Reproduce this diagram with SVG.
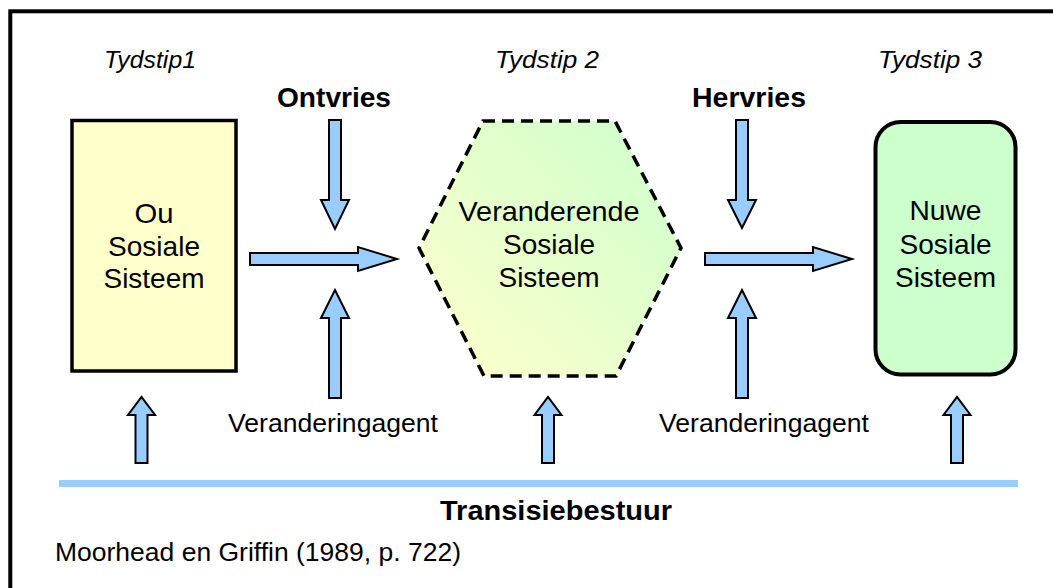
<svg xmlns="http://www.w3.org/2000/svg" width="1053" height="588" viewBox="0 0 1053 588">
  <defs>
    <linearGradient id="hexGrad" x1="0" y1="1" x2="1" y2="0">
      <stop offset="0" stop-color="#FFFFCC"/>
      <stop offset="1" stop-color="#CCFFCC"/>
    </linearGradient>
    <style>
      text { font-family: "Liberation Sans", Arial, sans-serif; fill: #000; }
      .ital { font-style: italic; font-size: 24px; }
      .bold { font-weight: bold; font-size: 27px; }
      .reg { font-size: 26px; }
      .node { font-size: 27.5px; }
      .arrow { fill: #99CCFF; stroke: #000; stroke-width: 2; stroke-linejoin: miter; }
    </style>
  </defs>
  <rect x="0" y="0" width="1053" height="588" fill="#FFFFFF"/>
  <rect x="10.3" y="11.3" width="1100" height="700" fill="none" stroke="#000" stroke-width="4"/>

  <g id="labels">
    <text class="ital" x="150" y="68" text-anchor="middle" textLength="92" lengthAdjust="spacingAndGlyphs">Tydstip1</text>
    <text class="ital" x="547" y="68" text-anchor="middle" textLength="104" lengthAdjust="spacingAndGlyphs">Tydstip 2</text>
    <text class="ital" x="930" y="68" text-anchor="middle" textLength="104" lengthAdjust="spacingAndGlyphs">Tydstip 3</text>
    <text class="bold" x="334" y="107" text-anchor="middle" textLength="114" lengthAdjust="spacingAndGlyphs">Ontvries</text>
    <text class="bold" x="749" y="107" text-anchor="middle" textLength="114" lengthAdjust="spacingAndGlyphs">Hervries</text>
    <text class="reg" x="333" y="432" text-anchor="middle" textLength="210" lengthAdjust="spacingAndGlyphs">Veranderingagent</text>
    <text class="reg" x="764" y="432" text-anchor="middle" textLength="210" lengthAdjust="spacingAndGlyphs">Veranderingagent</text>
    <text class="bold" x="556" y="520" text-anchor="middle" style="font-size:28px" textLength="232" lengthAdjust="spacingAndGlyphs">Transisiebestuur</text>
    <text x="55" y="561" style="font-size:26px" textLength="406" lengthAdjust="spacingAndGlyphs">Moorhead en Griffin (1989, p. 722)</text>
  </g>

  <g id="node-ou">
    <rect x="72" y="120.5" width="164" height="250.5" fill="#FFFFCC" stroke="#000" stroke-width="3.5"/>
    <text class="node" x="154" y="223" text-anchor="middle" textLength="39" lengthAdjust="spacingAndGlyphs">Ou</text>
    <text class="node" x="154" y="256" text-anchor="middle" textLength="92" lengthAdjust="spacingAndGlyphs">Sosiale</text>
    <text class="node" x="154" y="288" text-anchor="middle" textLength="101" lengthAdjust="spacingAndGlyphs">Sisteem</text>
  </g>

  <g id="node-veranderende">
    <polygon points="483,121 615,121 681,248 616,376 484,376 419,248" fill="url(#hexGrad)" stroke="#000" stroke-width="3.5" stroke-dasharray="12 7"/>
    <text class="node" x="549" y="221" text-anchor="middle" textLength="181" lengthAdjust="spacingAndGlyphs">Veranderende</text>
    <text class="node" x="549" y="254" text-anchor="middle" textLength="92" lengthAdjust="spacingAndGlyphs">Sosiale</text>
    <text class="node" x="549" y="287" text-anchor="middle" textLength="101" lengthAdjust="spacingAndGlyphs">Sisteem</text>
  </g>

  <g id="node-nuwe">
    <rect x="875.5" y="122" width="140" height="252.5" rx="25" ry="25" fill="#CCFFCC" stroke="#000" stroke-width="4"/>
    <text class="node" x="945.5" y="220" text-anchor="middle" textLength="72" lengthAdjust="spacingAndGlyphs">Nuwe</text>
    <text class="node" x="945.5" y="254" text-anchor="middle" textLength="92" lengthAdjust="spacingAndGlyphs">Sosiale</text>
    <text class="node" x="945.5" y="287" text-anchor="middle" textLength="101" lengthAdjust="spacingAndGlyphs">Sisteem</text>
  </g>

  <g id="connectors">
    <polygon class="arrow" points="250,253 358,253 358,247 397,259 358,271 358,265 250,265"/>
    <polygon class="arrow" points="705,253 813,253 813,247 852,259 813,271 813,265 705,265"/>
    <polygon class="arrow" points="329,120 341,120 341,200 349,200 335,229 321,200 329,200"/>
    <polygon class="arrow" points="736,120 748,120 748,200 756,200 742,228 728,200 736,200"/>
    <polygon class="arrow" points="329,398 341,398 341,318 349,318 335,290 321,318 329,318"/>
    <polygon class="arrow" points="736,398 748,398 748,318 756,318 742,290 728,318 736,318"/>
    <polygon class="arrow" points="135.5,463 147.5,463 147.5,415 155,415 141.5,397 128,415 135.5,415"/>
    <polygon class="arrow" points="542,463 554,463 554,415 561.5,415 548,397 534.5,415 542,415"/>
    <polygon class="arrow" points="951,463 963,463 963,415 970.5,415 957,397 943.5,415 951,415"/>
    <line x1="59" y1="483.5" x2="1018" y2="483.5" stroke="#99CCFF" stroke-width="7"/>
  </g>
</svg>
